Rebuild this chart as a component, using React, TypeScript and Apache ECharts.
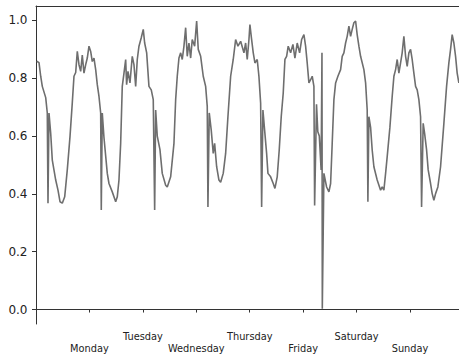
import React, { useEffect, useRef } from "react";
import * as echarts from "echarts";

const dayNames = ["Monday", "Tuesday", "Wednesday", "Thursday", "Friday", "Saturday", "Sunday"];
const dayTicks = [24, 48, 72, 96, 120, 144, 168];
const yTicks = [0, 0.2, 0.4, 0.6, 0.8, 1.0];

const hours = [
  0.31, 1.35, 2.11, 2.83, 4.36, 5.07, 5.39, 5.84, 6.6, 7.32, 8.85, 9.88, 10.78, 11.81, 12.89, 14.05, 15.27, 16.3,
  17.06, 17.83, 18.55, 19.31, 20.07, 20.79, 21.55, 22.32, 23.04, 23.8, 24.56, 25.28, 26.04, 26.81, 27.53, 28.29,
  29.05, 29.32, 29.77, 30.53, 32.02, 32.78, 34.26, 35.79, 36.51, 37.27, 38.03, 38.75, 39.52, 40.28, 40.7, 41.31,
  42.21, 43.24, 44.0, 44.77, 45.49, 46.25, 47.28, 48.18, 48.81, 49.71, 50.74, 51.77, 52.67, 53.3, 53.75, 54.47,
  55.68, 56.71, 58.24, 58.96, 60.48, 61.97, 62.73, 63.45, 64.21, 64.98, 65.69, 66.46, 67.22, 67.94, 68.7, 69.47,
  70.18, 71.26, 72.16, 72.88, 73.96, 75.12, 76.2, 76.92, 77.23, 77.82, 78.72, 79.61, 80.24, 81.14, 82.17, 82.94,
  84.1, 85.18, 86.21, 87.43, 88.59, 89.67, 90.71, 91.92, 93.4, 94.16, 94.88, 95.65, 96.09, 96.68, 97.58, 98.34,
  99.37, 100.13, 100.9, 101.35, 101.93, 102.7, 103.59, 104.18, 105.39, 106.56, 107.32, 108.35, 109.25, 110.15,
  111.05, 111.81, 112.57, 113.29, 114.37, 115.4, 116.3, 117.33, 118.41, 119.31, 120.34, 121.1, 121.82, 122.59,
  123.35, 124.07, 124.83, 125.15, 126.0, 126.58, 127.26, 128.07, 128.45, 128.6, 129.32, 130.53, 131.57, 132.33,
  133.05, 133.81, 134.58, 135.61, 136.82, 137.54, 138.3, 139.06, 139.78, 140.55, 141.31, 142.03, 142.79, 143.56,
  144.28, 145.04, 145.8, 147.28, 148.05, 148.77, 149.08, 149.53, 150.29, 151.01, 151.77, 153.25, 154.78, 155.5,
  156.26, 157.03, 157.75, 158.96, 159.99, 160.76, 161.52, 162.24, 163.0, 163.76, 164.48, 165.24, 166.01, 166.73,
  167.49, 168.25, 168.97, 169.73, 170.5, 171.22, 171.98, 172.74, 173.19, 173.91, 174.54, 175.44, 176.16, 177.23,
  177.95, 178.72, 179.48, 180.51, 181.72, 183.21, 184.42, 185.45, 186.21, 186.93, 187.7, 188.46, 189.18, 189.94,
];

const load = [
  0.859, 0.854, 0.807, 0.772, 0.733, 0.68, 0.368, 0.68, 0.61, 0.517, 0.448, 0.413, 0.373, 0.368, 0.39, 0.483, 0.598, 0.715,
  0.807, 0.82, 0.893, 0.847, 0.824, 0.88, 0.818, 0.847, 0.87, 0.911, 0.893, 0.858, 0.87, 0.83, 0.778, 0.737,
  0.68, 0.344, 0.68, 0.595, 0.471, 0.436, 0.407, 0.373, 0.39, 0.448, 0.575, 0.772, 0.818, 0.865, 0.778, 0.824,
  0.784, 0.876, 0.847, 0.772, 0.865, 0.911, 0.94, 0.969, 0.922, 0.888, 0.772, 0.76, 0.726, 0.344, 0.69, 0.6,
  0.553, 0.471, 0.43, 0.424, 0.459, 0.575, 0.726, 0.807, 0.87, 0.888, 0.865, 0.911, 0.975, 0.876, 0.922, 0.87,
  0.934, 0.911, 0.998, 0.9, 0.876, 0.807, 0.772, 0.703, 0.355, 0.68, 0.62, 0.54, 0.575, 0.494, 0.448, 0.44,
  0.471, 0.54, 0.667, 0.807, 0.865, 0.934, 0.911, 0.928, 0.888, 0.922, 0.865, 0.934, 0.986, 0.945, 0.888, 0.853,
  0.865, 0.807, 0.714, 0.355, 0.69, 0.62, 0.54, 0.471, 0.459, 0.436, 0.419, 0.459, 0.552, 0.667,
  0.749, 0.865, 0.876, 0.911, 0.888, 0.917, 0.87, 0.922, 0.888, 0.934, 0.951, 0.911, 0.853, 0.784,
  0.795, 0.807, 0.772, 0.36, 0.71, 0.615, 0.6, 0.483, 0.888, 0.003, 0.471, 0.424, 0.407, 0.436,
  0.575, 0.726, 0.784, 0.807, 0.83, 0.876, 0.888, 0.922, 0.945, 0.98, 0.945, 0.969, 0.992, 0.998,
  0.95, 0.911, 0.876, 0.83, 0.784, 0.69, 0.373, 0.667, 0.63, 0.552, 0.494, 0.448, 0.413, 0.424,
  0.413, 0.471, 0.529, 0.63, 0.737, 0.807, 0.83, 0.865, 0.818, 0.853, 0.888, 0.945, 0.876, 0.841,
  0.888, 0.9, 0.865, 0.818, 0.772, 0.76, 0.726, 0.667, 0.355, 0.644, 0.61, 0.552, 0.483, 0.436,
  0.401, 0.378, 0.401, 0.424, 0.494, 0.644, 0.772, 0.853, 0.9, 0.951, 0.922, 0.876, 0.818, 0.784,
];

const X_MIN = 0;
const X_MAX = 190;

export default function App() {
  const ref = useRef<HTMLDivElement>(null);

  useEffect(() => {
    if (!ref.current) return;
    const chart = echarts.init(ref.current, undefined, { renderer: "svg" });
    const spine = { show: true, lineStyle: { color: "#333333", width: 1 } };
    const font = "DejaVu Sans";
    chart.setOption({
      animation: false,
      backgroundColor: "#ffffff",
      grid: { left: 36, right: 0, top: 6, bottom: 32, containLabel: false },
      xAxis: [
        {
          type: "value",
          min: X_MIN,
          max: X_MAX,
          position: "bottom",
          axisLine: spine,
          splitLine: { show: false },
          axisTick: {
            show: true,
            length: 3,
            lineStyle: { color: "#333333" },
            customValues: [0, ...dayTicks],
          },
          axisLabel: {
            show: true,
            customValues: dayTicks,
            margin: 7,
            fontFamily: font,
            fontSize: 9.8,
            lineHeight: 11.5,
            color: "#222222",
            formatter: (v: number) => {
              const i = dayTicks.indexOf(Math.round(v));
              if (i < 0) return "";
              return i % 2 === 0 ? "\n" + dayNames[i] : dayNames[i];
            },
          },
        },
        {
          type: "value",
          min: X_MIN,
          max: X_MAX,
          position: "top",
          axisLine: spine,
          axisTick: { show: false },
          axisLabel: { show: false },
          splitLine: { show: false },
        },
      ],
      yAxis: {
        type: "value",
        min: -0.05,
        max: 1.05,
        axisLine: spine,
        splitLine: { show: false },
        axisTick: {
          show: true,
          length: 4,
          lineStyle: { color: "#333333" },
          customValues: yTicks,
        },
        axisLabel: {
          show: true,
          customValues: yTicks,
          margin: 8.5,
          fontFamily: font,
          fontSize: 12,
          color: "#222222",
          formatter: (v: number) => v.toFixed(1),
        },
      },
      series: [
        {
          type: "line",
          xAxisIndex: 0,
          data: hours.map((h, i) => [h, load[i]]),
          showSymbol: false,
          symbol: "none",
          lineStyle: { color: "#6e6e6e", width: 1.6 },
        },
      ],
    });
    return () => chart.dispose();
  }, []);

  return (
    <div
      ref={ref}
      style={{ position: "fixed", left: 0, top: 0, width: 459, height: 356, background: "#fff" }}
    />
  );
}
